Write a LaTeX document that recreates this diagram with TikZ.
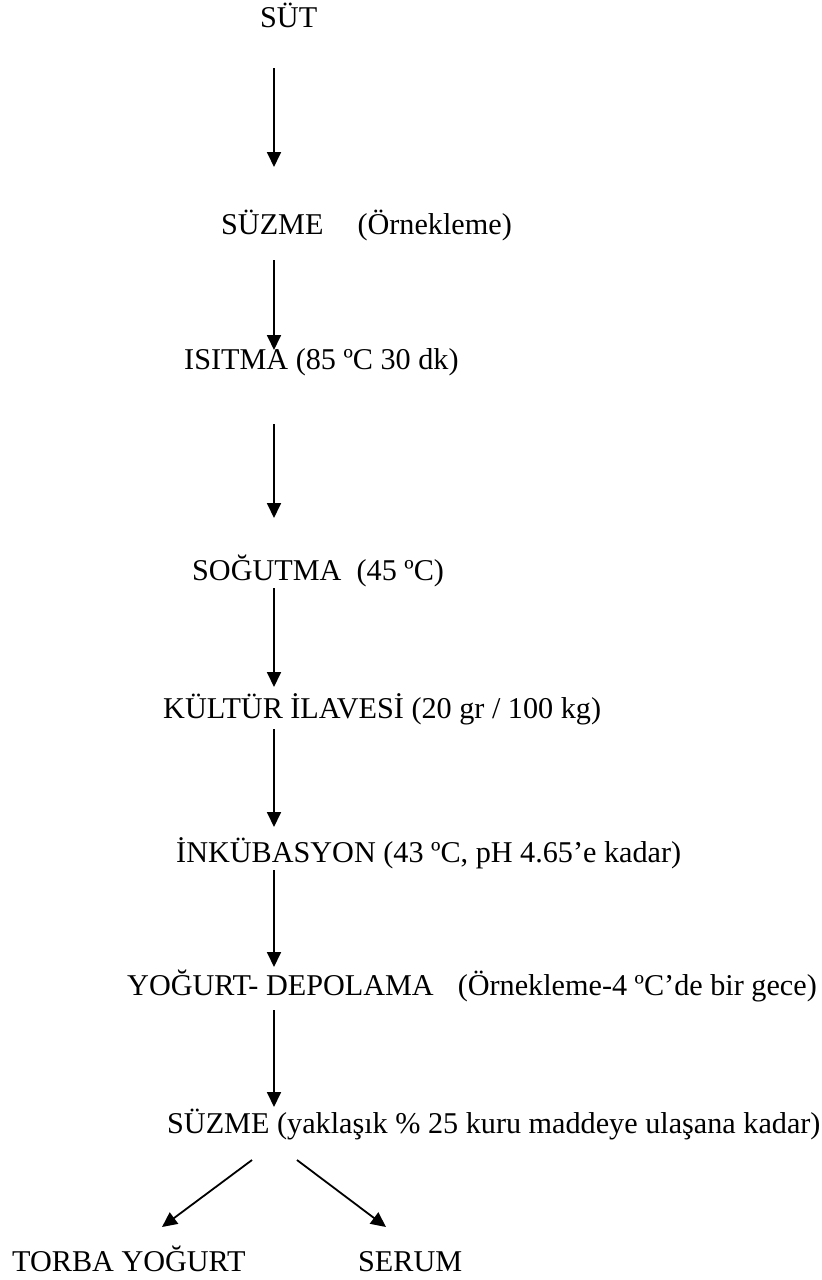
\documentclass[tikz,border=0pt]{standalone}
\usepackage{fontspec}
\setmainfont{Liberation Serif}
\usetikzlibrary{arrows.meta,calc}
\begin{document}
\begin{tikzpicture}[x=1pt,y=-1pt,
  lbl/.style={font=\fontsize{30.2}{36}\selectfont, inner sep=0pt, anchor=base west},
  arr/.style={line width=1.8pt,-{Triangle[length=15pt,width=14pt]}}]
\useasboundingbox (0,0) rectangle (822,1280);
\coordinate (ax) at (274,0);
\node[lbl] (sut) at (260,27) {SÜT};
\node[lbl] (suzme) at (221,234) {SÜZME\hspace{34pt}(Örnekleme)};
\node[lbl] (isitma) at (184,369) {ISITMA (85 ºC 30 dk)};
\node[lbl] (sogutma) at (192,580) {SOĞUTMA\ \ (45 ºC)};
\node[lbl] (kultur) at (163,718) {KÜLTÜR İLAVESİ (20 gr / 100 kg)};
\node[lbl] (inkub) at (176,862) {İNKÜBASYON (43 ºC, pH 4.65’e kadar)};
\node[lbl] (yogurt) at (127,995) {YOĞURT- DEPOLAMA\hspace{24pt}(Örnekleme-4 ºC’de bir gece)};
\node[lbl] (suzmeb) at (167,1133) {SÜZME (yaklaşık \% 25 kuru maddeye ulaşana kadar)};
\node[lbl] (torba) at (12,1271) {TORBA YOĞURT};
\node[lbl] (serum) at (358,1271) {SERUM};
\draw[arr] ($(sut.base -| ax)+(0,41)$) -- ($(suzme.base -| ax)+(0,-67)$);
\draw[arr] ($(suzme.base -| ax)+(0,26)$) -- ($(isitma.base -| ax)+(0,-19)$);
\draw[arr] ($(isitma.base -| ax)+(0,55)$) -- ($(sogutma.base -| ax)+(0,-62)$);
\draw[arr] ($(sogutma.base -| ax)+(0,8)$) -- ($(kultur.base -| ax)+(0,-31)$);
\draw[arr] ($(kultur.base -| ax)+(0,11)$) -- ($(inkub.base -| ax)+(0,-35)$);
\draw[arr] ($(inkub.base -| ax)+(0,8)$) -- ($(yogurt.base -| ax)+(0,-28)$);
\draw[arr] ($(yogurt.base -| ax)+(0,15)$) -- ($(suzmeb.base -| ax)+(0,-26)$);
\draw[arr] ($(suzmeb.base west)+(85,27)$) -- ($(torba.base west)+(150,-44)$);
\draw[arr] ($(suzmeb.base west)+(130,27)$) -- ($(serum.base west)+(28,-44)$);
\end{tikzpicture}
\end{document}
